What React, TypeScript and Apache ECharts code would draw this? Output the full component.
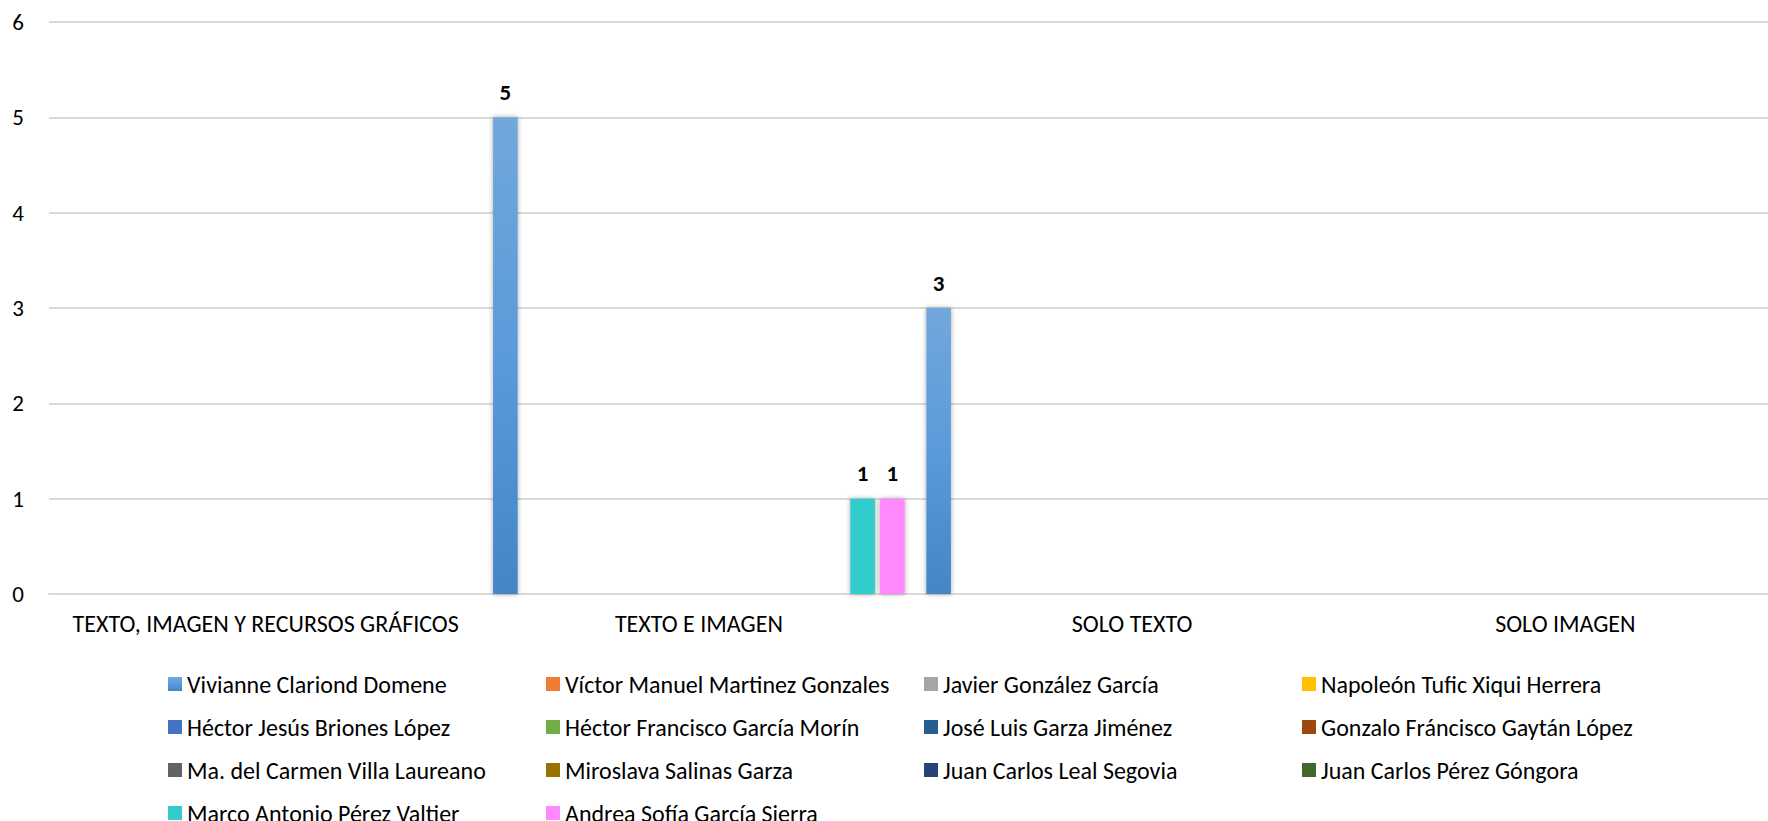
import React, { useEffect, useRef } from "react";
import * as echarts from "echarts";

const categories = [
  "TEXTO, IMAGEN Y RECURSOS GRÁFICOS",
  "TEXTO E IMAGEN",
  "SOLO TEXTO",
  "SOLO IMAGEN",
];

const seriesNames = [
  "Vivianne Clariond Domene",
  "Víctor Manuel Martinez Gonzales",
  "Javier González García",
  "Napoleón Tufic Xiqui Herrera",
  "Héctor Jesús Briones López",
  "Héctor Francisco García Morín",
  "José Luis Garza Jiménez",
  "Gonzalo Fráncisco Gaytán López",
  "Ma. del Carmen Villa Laureano",
  "Miroslava Salinas Garza",
  "Juan Carlos Leal Segovia",
  "Juan Carlos Pérez Góngora",
  "Marco Antonio Pérez Valtier",
  "Andrea Sofía García Sierra",
];

const seriesColors = [
  "#5B9BD5",
  "#ED7D31",
  "#A5A5A5",
  "#FFC000",
  "#4472C4",
  "#70AD47",
  "#255E91",
  "#9E480E",
  "#636363",
  "#997300",
  "#264478",
  "#43682B",
  "#33CCCC",
  "#FF88FF",
];

const seriesValues: (number | null)[][] = [
  [null, 5, 3, null],
  [null, null, null, null],
  [null, null, null, null],
  [null, null, null, null],
  [null, null, null, null],
  [null, null, null, null],
  [null, null, null, null],
  [null, null, null, null],
  [null, null, null, null],
  [null, null, null, null],
  [null, null, null, null],
  [null, null, null, null],
  [null, 1, null, null],
  [null, 1, null, null],
];

const yTicks = { min: 0, max: 6, interval: 1 };

const FONT = "Carlito, Calibri, Lato, sans-serif";

export default function App() {
  const ref = useRef<HTMLDivElement>(null);

  useEffect(() => {
    if (!ref.current) return;
    const chart = echarts.init(ref.current, null, { renderer: "svg" });

    const series = seriesNames.map((name, i) => {
      const base = seriesColors[i];
      const color =
        i === 0
          ? new echarts.graphic.LinearGradient(0, 0, 0, 1, [
              { offset: 0, color: "#72A7DC" },
              { offset: 0.5, color: "#5A9BDA" },
              { offset: 1, color: "#4386C6" },
            ])
          : base;
      return {
        name,
        type: "bar",
        data: seriesValues[i],
        barCategoryGap: "5%",
        barGap: "21%",
        itemStyle: {
          color,
          shadowColor: "rgba(0,0,0,0.35)",
          shadowBlur: 5,
        },
        label: {
          show: true,
          position: "top",
          distance: 14,
          fontFamily: FONT,
          fontSize: 23,
          fontWeight: "bold",
          color: "#000",
        },
      };
    });

    const colLefts = [163, 541, 919, 1297];
    const legends = colLefts.map((left, c) => ({
      type: "plain",
      orient: "vertical",
      left,
      top: 667,
      height: 200,
      padding: 5,
      itemWidth: 14,
      itemHeight: 14,
      itemGap: 19,
      icon: "rect",
      data: seriesNames.filter((_, i) => i % 4 === c),
      textStyle: {
        fontFamily: FONT,
        fontSize: 24,
        lineHeight: 24,
        color: "#000",
      },
      selectedMode: false,
    }));

    chart.setOption({
      animation: false,
      color: seriesColors,
      legend: legends,
      grid: {
        left: 49,
        right: -14,
        top: 22,
        bottom: 227,
        outerBoundsMode: "none",
        containLabel: false,
      },
      xAxis: {
        type: "category",
        data: categories,
        axisLine: { show: true, lineStyle: { color: "#D9D9D9", width: 2 } },
        axisTick: { show: false },
        axisLabel: {
          fontFamily: FONT,
          fontSize: 24,
          color: "#000",
          margin: 17,
          interval: 0,
        },
      },
      yAxis: {
        type: "value",
        min: yTicks.min,
        max: yTicks.max,
        interval: yTicks.interval,
        axisLine: { show: false },
        axisTick: { show: false },
        splitLine: { lineStyle: { color: "#D9D9D9", width: 2 } },
        axisLabel: {
          fontFamily: FONT,
          fontSize: 23,
          color: "#000",
          margin: 25,
        },
      },
      series,
    });

    return () => chart.dispose();
  }, []);

  return (
    <div
      ref={ref}
      style={{
        position: "absolute",
        left: 0,
        top: 0,
        width: 1768,
        height: 821,
        background: "#fff",
      }}
    />
  );
}
